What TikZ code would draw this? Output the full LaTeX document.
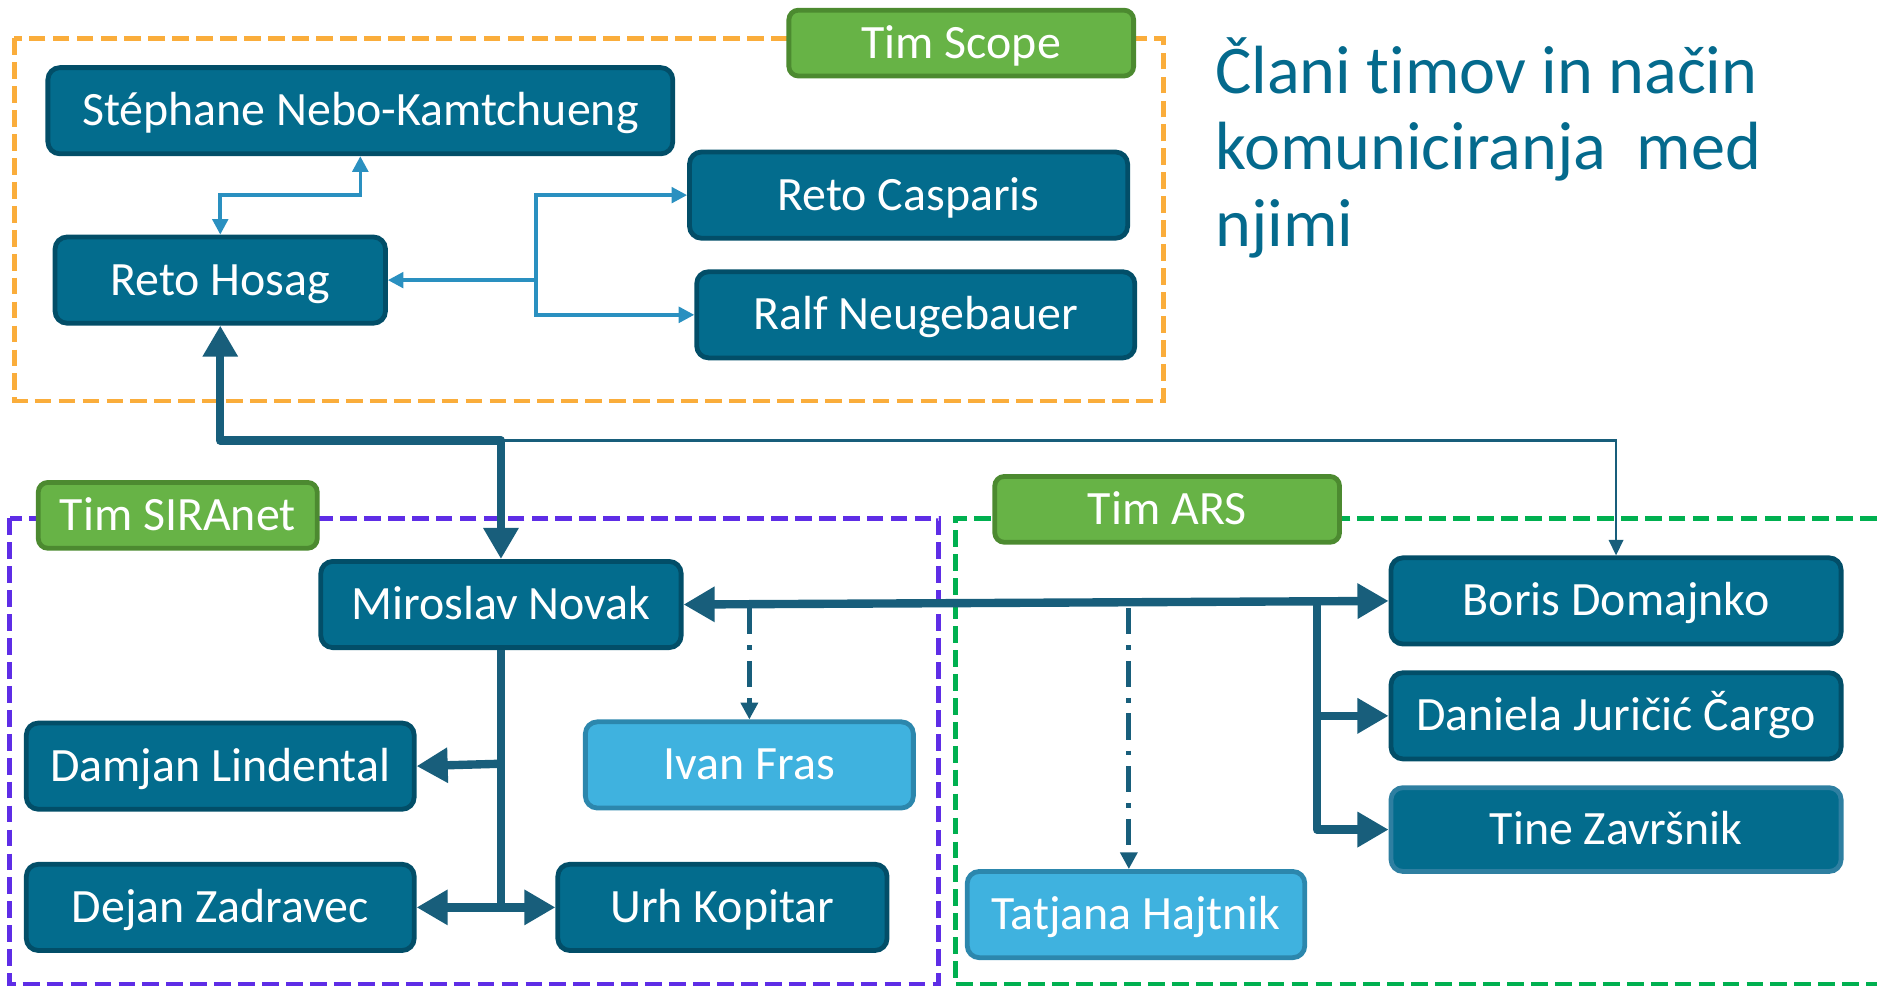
\documentclass[tikz,border=0pt]{standalone}
\usepackage{fontspec}
\setmainfont{Carlito}[Ligatures=NoCommon, Contextuals=NoAlternate]
\usetikzlibrary{arrows.meta}
\definecolor{boxfill}{HTML}{036C8D}
\definecolor{boxedge}{HTML}{024E68}
\definecolor{tineedge}{HTML}{2E7FA1}
\definecolor{lightfill}{HTML}{3FB2DF}
\definecolor{lightedge}{HTML}{2C87AD}
\definecolor{labfill}{HTML}{67B346}
\definecolor{labedge}{HTML}{4C8A30}
\definecolor{conn}{HTML}{185E7B}
\definecolor{thinblue}{HTML}{2A90C0}
\definecolor{orangeD}{HTML}{FAAD3B}
\definecolor{purpleD}{HTML}{5E2DE6}
\definecolor{greenD}{HTML}{00B050}
\definecolor{titlecol}{HTML}{046A8D}
\begin{document}
\begin{tikzpicture}[x=1pt,y=-1pt,
  person/.style={draw=boxedge, fill=boxfill, line width=4pt, rounded corners=10pt,
    text=white, font=\fontsize{40}{48}\selectfont, inner sep=0pt,
    text height=30pt, text depth=5pt, minimum height=72pt},
  helper/.style={person, draw=lightedge, fill=lightfill},
  teamlabel/.style={draw=labedge, fill=labfill, line width=4pt, rounded corners=8pt,
    text=white, font=\fontsize{40}{48}\selectfont, inner sep=0pt,
    text height=30pt, text depth=5pt, minimum height=55pt, minimum width=288pt},
  teambox/.style={line width=4pt, dash pattern=on 14pt off 6pt},
  titletext/.style={text=titlecol, font=\fontsize{57}{64}\selectfont, inner sep=0pt, anchor=base west},
  thinlink/.style={draw=thinblue, line width=3pt, -{Triangle[length=13pt,width=13pt]}},
  thicklink/.style={draw=conn, line width=7pt, line join=round, -{Triangle[length=26pt,width=28pt]}},
  fineline/.style={draw=conn, line width=2pt, -{Triangle[length=13pt,width=12pt]}},
  dotlink/.style={draw=conn, line width=4pt, dash pattern=on 22pt off 9pt on 4pt off 9pt,
    -{Triangle[length=14pt,width=14pt]}}
]
\useasboundingbox (0,0) rectangle (1568,824);

% team frames
\draw[teambox, draw=orangeD] (12,32) rectangle (972,335);
\draw[teambox, draw=purpleD] (8,433) rectangle (784,822);
\draw[teambox, draw=greenD] (1568,433) -- (798,433) -- (798,822) -- (1568,822);

% team labels
\node[teamlabel] (scope) at (803,36) {Tim Scope};
\node[teamlabel, minimum width=233pt] (siranet) at (148.5,430.5) {Tim SIRAnet};
\node[teamlabel] (ars) at (975,425.5) {Tim ARS};

% title
\node[titletext] (t1) at (1015,78) {Člani t\kern0pt imov in način};
\node[titletext] (t2) at (1015,142) {komuniciranja\ \ med};
\node[titletext] (t3) at (1015,206) {njimi};

% people
\node[person, minimum width=522pt] (steph) at (301,92.5) {Stéphane Nebo-Kamtchueng};
\node[person, minimum width=276pt] (hosag) at (184,234) {Reto Hosag};
\node[person, minimum width=366pt] (casparis) at (759,163) {Reto Casparis};
\node[person, minimum width=366pt] (ralf) at (765,263) {Ralf Neugebauer};
\node[person, minimum width=301pt] (novak) at (418.5,505) {Miroslav Novak};
\node[person, minimum width=324pt] (damjan) at (184,640) {Damjan Lindental};
\node[person, minimum width=324pt] (dejan) at (184,758) {Dejan Zadravec};
\node[person, minimum width=275pt] (urh) at (603.5,758) {Urh Kopitar};
\node[helper, minimum width=274pt] (ivan) at (626,639) {Ivan Fras};
\node[person, minimum width=376pt] (boris) at (1350,502) {Boris Domajnko};
\node[person, minimum width=376pt] (daniela) at (1350,598) {Daniela Juričić Čargo};
\node[person, draw=tineedge, minimum width=376pt, minimum height=70pt] (tine) at (1350,693) {Tine Završnik};
\node[helper, minimum width=282pt] (tatjana) at (949,764) {Tatjana Hajtnik};

% junction points
\coordinate (j1) at (448,234);
\coordinate (j2) at (418.5,368);
\coordinate (j3) at (1100,503.5);
\coordinate (j4) at (418.5,758);
\coordinate (j5) at (418.5,638);
\coordinate (j6) at (626,508);
\coordinate (j7) at (943,508);

% Scope team links
\draw[thinlink, {Triangle[length=13pt,width=13pt]}-{Triangle[length=13pt,width=13pt]}]
  (hosag.north) -- ++(0,-33) -| (steph.south);
\draw[thinlink] (j1) -- (hosag.east);
\draw[thinlink] (j1) |- (casparis.west);
\draw[thinlink] (j1) |- (ralf.west);

% main links
\draw[fineline] (j2) -| (boris.north);
\draw[thicklink, {Triangle[length=26pt,width=28pt]}-{Triangle[length=26pt,width=28pt]}]
  (hosag.south) |- (j2) -- (novak.north);
\draw[thicklink, {Triangle[length=26pt,width=28pt]}-{Triangle[length=26pt,width=28pt]}]
  (novak.east) -- (boris.west);
\draw[thicklink] (j3) |- (daniela.west);
\draw[thicklink] (j3) |- (tine.west);
\draw[thicklink, -] (novak.south) -- (j4);
\draw[thicklink] (j4) -- (dejan.east);
\draw[thicklink] (j4) -- (urh.west);
\draw[thicklink] (j5) -- (damjan.east);
\draw[dotlink] (j6) -- (ivan.north);
\draw[dotlink] (j7) -- (j7 |- tatjana.north);
\end{tikzpicture}
\end{document}
